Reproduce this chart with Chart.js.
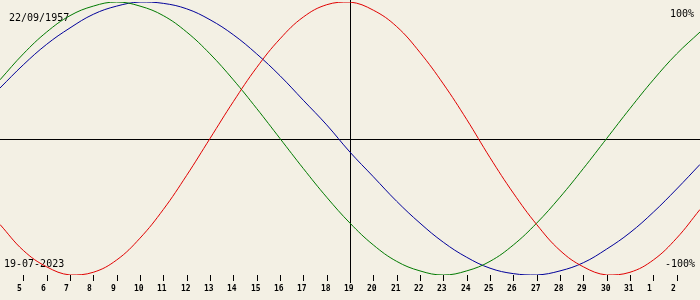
<!DOCTYPE html>
<html>
<head>
<meta charset="utf-8">
<script src="https://cdn.jsdelivr.net/npm/chart.js@4/dist/chart.umd.min.js"></script>
<style>
html,body{margin:0;padding:0;background:#f3f0e4;}
canvas{display:block;}
</style>
</head>
<body>
<canvas id="c" width="700" height="300"></canvas>
<script>
// Days shown: 4 July 2023 .. 3 August 2023
const days = ['4','5','6','7','8','9','10','11','12','13','14','15','16','17','18','19','20','21','22','23','24','25','26','27','28','29','30','31','1','2','3'];
// Physical (red), emotional (green), intellectual (blue) values, -1..1
const physical = [-0.63,-0.82,-0.94,-1.00,-0.98,-0.89,-0.73,-0.52,-0.27,0.00,0.27,0.52,0.73,0.89,0.98,1.00,0.94,0.82,0.63,0.40,0.14,-0.14,-0.40,-0.63,-0.82,-0.94,-1.00,-0.98,-0.89,-0.73,-0.52];
const emotional = [0.43,0.62,0.78,0.90,0.97,1.00,0.97,0.90,0.78,0.62,0.43,0.22,0.00,-0.22,-0.43,-0.62,-0.78,-0.90,-0.97,-1.00,-0.97,-0.90,-0.78,-0.62,-0.43,-0.22,0.00,0.22,0.43,0.62,0.78];
const intellectual = [0.37,0.54,0.69,0.81,0.91,0.97,1.00,0.99,0.95,0.87,0.76,0.62,0.46,0.28,0.10,-0.10,-0.28,-0.46,-0.62,-0.76,-0.87,-0.95,-0.99,-1.00,-0.97,-0.91,-0.81,-0.69,-0.54,-0.37,-0.19];
const birthDate = '22/09/1957';
const targetDate = '19-07-2023';
const markedDay = '19';
const topLabel = '100%';
const bottomLabel = '-100%';

const overlay = {
  id: 'overlay',
  beforeDraw(chart) {
    const c = chart.ctx;
    c.save();
    c.fillStyle = '#f3f0e4';
    c.fillRect(0, 0, chart.width, chart.height);
    c.restore();
  },
  beforeDatasetsDraw(chart) {
    const c = chart.ctx, xs = chart.scales.x, ys = chart.scales.y, a = chart.chartArea;
    c.save();
    c.strokeStyle = '#000';
    c.lineWidth = 1;
    // zero line
    const y0 = Math.round(ys.getPixelForValue(0)) + 0.5;
    c.beginPath(); c.moveTo(0, y0); c.lineTo(chart.width, y0); c.stroke();
    // marked day line
    const xm = Math.round(xs.getPixelForValue(days.indexOf(markedDay))) + 0.5;
    c.beginPath(); c.moveTo(xm, 0); c.lineTo(xm, a.bottom + 8); c.stroke();
    // day ticks and labels
    c.font = 'bold 8px "DejaVu Sans Mono"';
    c.fillStyle = '#000';
    c.textAlign = 'left';
    c.textBaseline = 'alphabetic';
    for (let i = 1; i < days.length - 1; i++) {
      const x = Math.round(xs.getPixelForValue(i)) + 0.5;
      c.beginPath(); c.moveTo(x, a.bottom); c.lineTo(x, a.bottom + 6); c.stroke();
      c.fillText(days[i], x - 6.5, a.bottom + 16);
    }
    // texts
    c.font = '10px "DejaVu Sans Mono"';
    c.fillText(birthDate, 9, 21);
    c.fillText(targetDate, 4, 267);
    c.textAlign = 'right';
    c.fillText(topLabel, 694, 17);
    c.fillText(bottomLabel, 695, 267);
    c.restore();
  }
};

new Chart(document.getElementById('c'), {
  type: 'line',
  data: {
    labels: days,
    datasets: [
      { data: physical, borderColor: '#e00000', borderWidth: 1, pointRadius: 0, tension: 0.4, fill: false },
      { data: emotional, borderColor: '#007a00', borderWidth: 1, pointRadius: 0, tension: 0.4, fill: false },
      { data: intellectual, borderColor: '#00009a', borderWidth: 1, pointRadius: 0, tension: 0.4, fill: false }
    ]
  },
  options: {
    responsive: false,
    animation: false,
    devicePixelRatio: 1,
    layout: { padding: { top: 2, bottom: 25, left: 0, right: 0 } },
    plugins: { legend: { display: false }, tooltip: { enabled: false } },
    scales: {
      x: { type: 'category', offset: false, display: false },
      y: { min: -1, max: 1, display: false }
    }
  },
  plugins: [overlay]
});
</script>
</body>
</html>
